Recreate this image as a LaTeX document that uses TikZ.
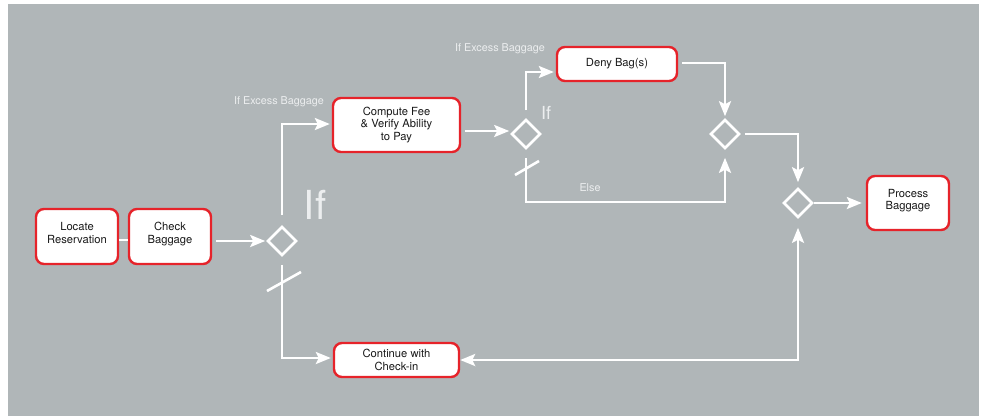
\documentclass[tikz,border=0pt]{standalone}
\usepackage{fontspec}
\setmainfont{TeX Gyre Heros}
\usetikzlibrary{shapes.geometric,arrows.meta}
\definecolor{bggray}{RGB}{176,182,184}
\definecolor{boxred}{RGB}{230,35,42}
\definecolor{lbl}{RGB}{236,238,239}
\tikzset{
  actbox/.style={draw=boxred, fill=white, line width=2.4pt, rounded corners=8pt,
    inner sep=0pt, align=center, text=black!90,
    font=\fontsize{11.2}{12.5}\selectfont},
  dia/.style={diamond, draw=white, line width=2.6pt, minimum width=29pt,
    minimum height=29pt, inner sep=0pt},
  flow/.style={draw=white, line width=2.6pt},
  arr/.style={flow, -{Stealth[length=15pt,width=12pt,inset=3pt]}},
  arrr/.style={flow, {Stealth[length=15pt,width=12pt,inset=3pt]}-{Stealth[length=15pt,width=12pt,inset=3pt]}},
  lab/.style={text=lbl, font=\fontsize{10.8}{12}\selectfont, inner sep=0pt},
}
\begin{document}
\begin{tikzpicture}[x=1pt,y=-1pt]
\useasboundingbox (0,0) rectangle (983,416);
\fill[bggray] (8,4) rectangle (979,416);

% activity boxes
\node[actbox, minimum width=82pt, minimum height=55pt] (loc) at (77,236.5) {Locate\\Reservation\\[-5pt]};
\node[actbox, minimum width=82pt, minimum height=55pt] (chk) at (170,236.5) {Check\\Baggage\\[-5pt]};
\node[actbox, minimum width=127pt, minimum height=54pt] (cmp) at (396.5,125) {Compute Fee\\\& Verify Ability\\to Pay};
\node[actbox, minimum width=125pt, minimum height=34pt] (cnt) at (396.5,360) {Continue with\\Check-in};
\node[actbox, minimum width=120pt, minimum height=34pt] (deny) at (617,64) {Deny Bag(s)};
\node[actbox, minimum width=82pt, minimum height=54pt] (proc) at (908,203) {Process\\Baggage\\[-5pt]};

% decision / merge diamonds
\node[dia] (d1) at (282,241) {};
\node[dia] (d2) at (526,134) {};
\node[dia] (d3) at (725,134) {};
\node[dia] (d4) at (798,203) {};

% labels
\node[lab] (l1) at (279,102) {If Excess Baggage};
\node[lab] (l2) at (500,49) {If Excess Baggage};
\node[lab] (l3) at (590,188) {Else};
\node[text=lbl, font=\fontsize{40}{40}\selectfont, inner sep=0pt] (if1) at (315,205) {If};
\node[text=lbl, font=\fontsize{18}{18}\selectfont, inner sep=0pt] (if2) at (546,113) {If};

% connectors
\draw[flow] (loc.east |- 0,240) -- (chk.west |- 0,240);
\draw[arr, shorten <=4pt, shorten >=1pt] (chk.east |- d1) -- (d1.west);
\draw[arr, shorten <=10pt, shorten >=2pt] (d1.north) |- (cmp.west |- 0,124);
\draw[arr, shorten <=8pt, shorten >=2pt] (d1.south) |- (cnt.west |- 0,358);
\coordinate (s1a) at (267,291);
\coordinate (s1b) at (301,272);
\draw[flow] (s1a) -- (s1b);

\draw[arr, shorten <=4pt, shorten >=1pt] (cmp.east |- 0,131) -- (d2.west |- 0,131);
\draw[arr, shorten <=8pt, shorten >=2pt] (d2.north) |- (deny.west |- 0,72);
\coordinate (elsec) at (526,202);
\draw[arr, shorten <=8pt, shorten >=8pt] (d2.south) -- (elsec) -| (d3.south);
\coordinate (s2a) at (515,175);
\coordinate (s2b) at (539,161);
\draw[flow] (s2a) -- (s2b);

\draw[arr, shorten <=4pt, shorten >=2pt] (deny.east |- 0,63) -| (d3.north);
\draw[arr, shorten <=4pt, shorten >=5pt] (d3.east) -| (d4.north);
\draw[arr, shorten >=4pt] (d4.east) -- (proc.west);
\draw[arrr, shorten <=0pt, shorten >=9pt] (cnt.east) -| (d4.south);
\end{tikzpicture}
\end{document}
